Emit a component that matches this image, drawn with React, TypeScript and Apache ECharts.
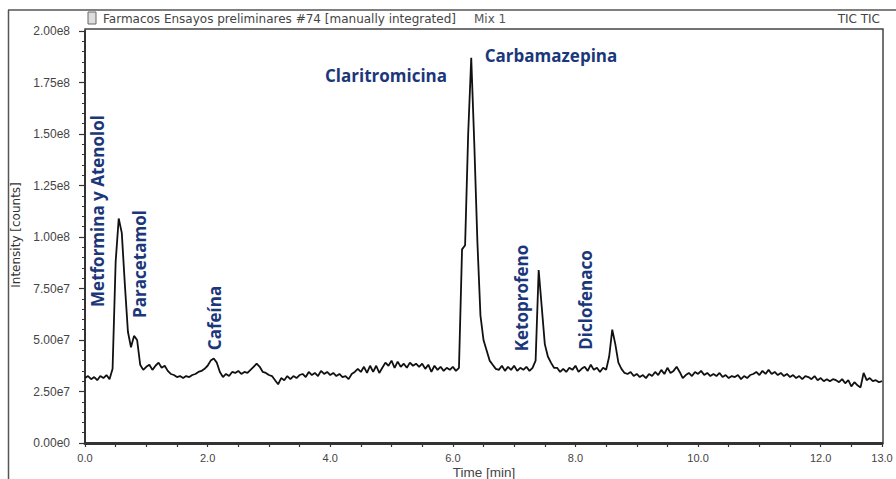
import React, { useEffect, useRef } from "react";
import * as echarts from "echarts";

// Retention time grid (min)
const times: number[] = [
  0.0, 0.05, 0.1, 0.15, 0.2, 0.25, 0.3, 0.35, 0.4, 0.45, 0.5, 0.55, 0.6, 0.65, 0.7, 0.75, 0.8, 0.85, 0.9, 0.95,
  1.0, 1.05, 1.1, 1.15, 1.2, 1.25, 1.3, 1.35, 1.4, 1.45, 1.5, 1.55, 1.6, 1.65, 1.7, 1.75, 1.8, 1.85, 1.9, 1.95,
  2.0, 2.05, 2.1, 2.15, 2.2, 2.25, 2.3, 2.35, 2.4, 2.45, 2.5, 2.55, 2.6, 2.65, 2.7, 2.75, 2.8, 2.85, 2.9, 2.95,
  3.0, 3.05, 3.1, 3.15, 3.2, 3.25, 3.3, 3.35, 3.4, 3.45, 3.5, 3.55, 3.6, 3.65, 3.7, 3.75, 3.8, 3.85, 3.9, 3.95,
  4.0, 4.05, 4.1, 4.15, 4.2, 4.25, 4.3, 4.35, 4.4, 4.45, 4.5, 4.55, 4.6, 4.65, 4.7, 4.75, 4.8, 4.85, 4.9, 4.95,
  5.0, 5.05, 5.1, 5.15, 5.2, 5.25, 5.3, 5.35, 5.4, 5.45, 5.5, 5.55, 5.6, 5.65, 5.7, 5.75, 5.8, 5.85, 5.9, 5.95,
  6.0, 6.05, 6.1, 6.15, 6.2, 6.25, 6.3, 6.35, 6.4, 6.45, 6.5, 6.55, 6.6, 6.65, 6.7, 6.75, 6.8, 6.85, 6.9, 6.95,
  7.0, 7.05, 7.1, 7.15, 7.2, 7.25, 7.3, 7.35, 7.4, 7.45, 7.5, 7.55, 7.6, 7.65, 7.7, 7.75, 7.8, 7.85, 7.9, 7.95,
  8.0, 8.05, 8.1, 8.15, 8.2, 8.25, 8.3, 8.35, 8.4, 8.45, 8.5, 8.55, 8.6, 8.65, 8.7, 8.75, 8.8, 8.85, 8.9, 8.95,
  9.0, 9.05, 9.1, 9.15, 9.2, 9.25, 9.3, 9.35, 9.4, 9.45, 9.5, 9.55, 9.6, 9.65, 9.7, 9.75, 9.8, 9.85, 9.9, 9.95,
  10.0, 10.05, 10.1, 10.15, 10.2, 10.25, 10.3, 10.35, 10.4, 10.45, 10.5, 10.55, 10.6, 10.65, 10.7, 10.75, 10.8, 10.85, 10.9, 10.95,
  11.0, 11.05, 11.1, 11.15, 11.2, 11.25, 11.3, 11.35, 11.4, 11.45, 11.5, 11.55, 11.6, 11.65, 11.7, 11.75, 11.8, 11.85, 11.9, 11.95,
  12.0, 12.05, 12.1, 12.15, 12.2, 12.25, 12.3, 12.35, 12.4, 12.45, 12.5, 12.55, 12.6, 12.65, 12.7, 12.75, 12.8, 12.85, 12.9, 12.95,
  13.0,
];

// TIC intensity, in millions of counts
const intensityMillions: number[] = [
  31.5, 32.5, 31, 32, 30.5, 32.5, 31.5, 33, 31, 36, 88, 109, 102, 77, 54, 46.5, 52, 50, 38, 35.5,
  37, 38, 35.5, 37.5, 39, 36.5, 37.5, 35, 33.5, 33, 32, 32.5, 31.5, 32.5, 32, 33, 33.5, 34.5, 35, 36,
  37.5, 40, 41, 39, 34.5, 32, 33.5, 32.5, 34.5, 34, 35, 33.5, 34.5, 34, 35.5, 37, 38.5, 37, 34.5, 34,
  33, 32.5, 30.5, 28.5, 31.5, 30.5, 32.5, 31, 32.5, 31.5, 33, 33.5, 32, 34.5, 33, 34, 32.5, 35, 33.5, 34.5,
  33, 34, 32.5, 33.5, 32, 32.5, 31, 33.5, 34.5, 36, 34.5, 37, 34, 37.5, 34.5, 37.5, 34, 36.5, 39, 37.5,
  40, 36.5, 39.5, 37, 38.5, 36.5, 39, 37.5, 38.5, 37, 38.5, 36, 38, 34.5, 37.5, 35.5, 37, 35, 36.5, 35.5,
  37, 35, 36.5, 94, 96, 150, 187, 145, 98, 62, 50, 45, 40, 38, 36, 35.5, 37.5, 35, 37, 35.5,
  37.5, 35, 36.5, 35.5, 37, 35, 36.5, 40, 84, 66, 48, 42, 39, 36.5, 36.5, 34.5, 36, 34.5, 36.5, 35.5,
  37.5, 34.5, 36, 37, 35, 38, 35.5, 36.5, 34.5, 36.5, 35.5, 42, 55, 48, 39, 36, 34, 33.5, 34.5, 32.5,
  33.5, 32, 33, 31.5, 33.5, 32.5, 34.5, 33, 35.5, 33.5, 36.5, 34, 35, 37, 34.5, 31.5, 33, 34, 32.5, 34.5,
  33.5, 35, 33, 34, 32.5, 33.5, 32.5, 34, 32, 33, 31.5, 32.5, 32, 33, 31, 32.5, 31.5, 33, 33.5, 34.5,
  33, 35, 33.5, 35.5, 33.5, 34.5, 33, 34, 32.5, 33.5, 32, 33, 31.5, 32.5, 31, 32.5, 32, 31, 32.5, 30.5,
  31.5, 30, 31, 30, 31, 30.5, 29.5, 31, 29, 30.5, 27.5, 29.5, 28, 27, 34, 30.5, 31.5, 30, 30.5, 29.5,
  30,
];

const xLabelValues: number[] = [0, 2, 4, 6, 8, 10, 12, 13];

const peakNames: string[] = [
  "Metformina y Atenolol",
  "Paracetamol",
  "Cafeína",
  "Claritromicina",
  "Carbamazepina",
  "Ketoprofeno",
  "Diclofenaco",
];

const headerTitle = "Farmacos Ensayos preliminares #74 [manually integrated]";
const headerMix = "Mix 1";
const headerTrace = "TIC TIC";
const yAxisTitle = "Intensity [counts]";
const xAxisTitle = "Time [min]";

const NAVY = "#1b377a";
const AXIS = "#333";
const HEADER_FONT = "12px 'DejaVu Sans', sans-serif";

export default function App() {
  const ref = useRef<HTMLDivElement>(null);

  useEffect(() => {
    const chart = echarts.init(ref.current!, null, { renderer: "svg" });
    const data = times.map((t, i) => [t, intensityMillions[i] * 1e6]);

    const annot = (text: string, x: number, y: number, vertical: boolean) => ({
      type: "text",
      x,
      y,
      rotation: vertical ? Math.PI / 2 : 0,
      z: 10,
      style: {
        text,
        align: "center",
        verticalAlign: "middle",
        fill: NAVY,
        font: "bold 17px 'Open Sans', sans-serif",
      },
    });

    chart.setOption({
      animation: false,
      backgroundColor: "#ffffff",
      grid: { left: 85, right: 14, top: 31, bottom: 36, containLabel: false },
      xAxis: {
        type: "value",
        min: 0,
        max: 13,
        interval: 0.5,
        axisLine: { show: true, onZero: false, lineStyle: { color: AXIS, width: 3 } },
        axisTick: { show: true, length: 4, lineStyle: { color: AXIS, width: 1.2 } },
        axisLabel: {
          show: true,
          margin: 9,
          color: "#444",
          fontSize: 11,
          fontFamily: "'Liberation Sans', Arial, sans-serif",
          showMaxLabel: true,
          showMinLabel: true,
          formatter: (v: number) =>
            xLabelValues.some((x) => Math.abs(x - v) < 1e-9) ? v.toFixed(1) : "",
        },
        splitLine: { show: false },
      },
      yAxis: {
        type: "value",
        min: 0,
        max: 2e8,
        interval: 2.5e7,
        axisLine: { show: true, lineStyle: { color: AXIS, width: 2 } },
        axisTick: { show: true, length: 6, lineStyle: { color: AXIS, width: 1.2 } },
        minorTick: { show: true, splitNumber: 5, length: 3, lineStyle: { color: AXIS, width: 1 } },
        axisLabel: {
          margin: 15,
          color: "#444",
          fontSize: 12,
          fontFamily: "'Liberation Sans', Arial, sans-serif",
          formatter: (v: number) => v.toExponential(2).replace("+", ""),
        },
        splitLine: { show: false },
      },
      series: [
        {
          type: "line",
          data,
          showSymbol: false,
          symbol: "none",
          lineStyle: { color: "#111", width: 1.8 },
          z: 5,
        },
      ],
      graphic: [
        // outer frame
        { type: "line", shape: { x1: 8, y1: 10, x2: 896, y2: 10 }, style: { stroke: "#555", lineWidth: 1.5 } },
        { type: "line", shape: { x1: 8.5, y1: 10, x2: 8.5, y2: 479 }, style: { stroke: "#555", lineWidth: 1.5 } },
        // plot box
        {
          type: "rect",
          shape: { x: 85, y: 29, width: 798, height: 414 },
          style: { fill: "none", stroke: "#444", lineWidth: 1.5 },
          silent: true,
        },
        // header icon
        {
          type: "rect",
          shape: { x: 88, y: 12, width: 8, height: 12 },
          style: { fill: "#ddd", stroke: "#666", lineWidth: 1 },
        },
        {
          type: "text",
          x: 103,
          y: 19,
          style: { text: headerTitle, align: "left", verticalAlign: "middle", fill: "#444", font: HEADER_FONT },
        },
        {
          type: "text",
          x: 474,
          y: 19,
          style: { text: headerMix, align: "left", verticalAlign: "middle", fill: "#555", font: HEADER_FONT },
        },
        {
          type: "text",
          x: 880,
          y: 19,
          style: { text: headerTrace, align: "right", verticalAlign: "middle", fill: "#444", font: HEADER_FONT },
        },
        {
          type: "text",
          x: 16,
          y: 235,
          rotation: Math.PI / 2,
          style: {
            text: yAxisTitle,
            align: "center",
            verticalAlign: "middle",
            fill: "#333",
            font: "12px 'DejaVu Sans', sans-serif",
          },
        },
        {
          type: "text",
          x: 484,
          y: 472,
          style: {
            text: xAxisTitle,
            align: "center",
            verticalAlign: "middle",
            fill: "#444",
            font: "13.5px 'Liberation Sans', Arial, sans-serif",
          },
        },
        annot(peakNames[0], 97, 211, true),
        annot(peakNames[1], 139, 264, true),
        annot(peakNames[2], 214.5, 318, true),
        annot(peakNames[3], 386, 75, false),
        annot(peakNames[4], 551, 55, false),
        annot(peakNames[5], 521.5, 298, true),
        annot(peakNames[6], 585.5, 300, true),
      ],
    });

    return () => chart.dispose();
  }, []);

  return (
    <div
      ref={ref}
      style={{ position: "fixed", left: 0, top: 0, width: 896, height: 479, background: "#fff" }}
    />
  );
}
